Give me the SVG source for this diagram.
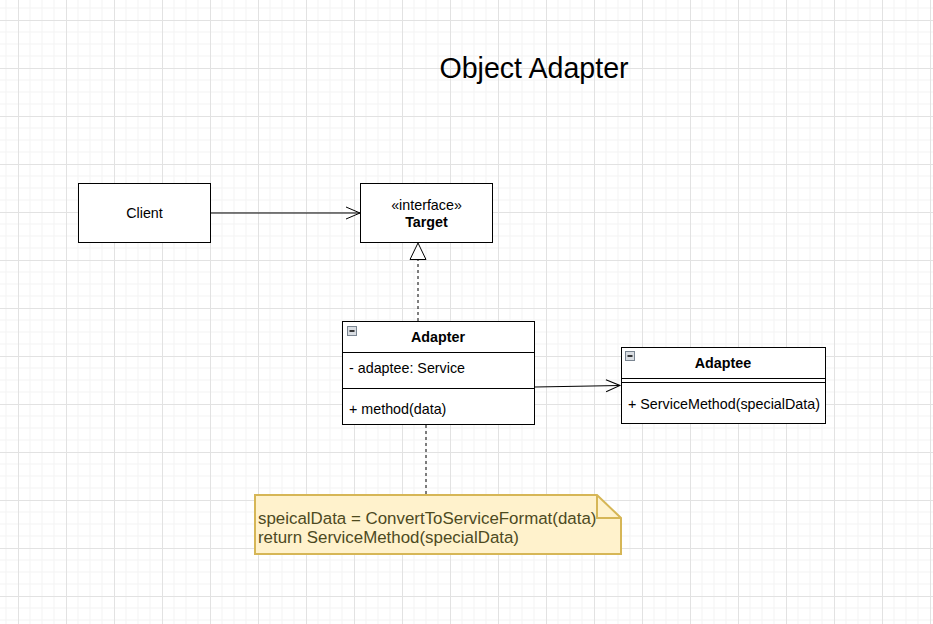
<svg xmlns="http://www.w3.org/2000/svg" width="933" height="624" viewBox="0 0 933 624">
<style>
text{font-family:"Liberation Sans",Arial,sans-serif;font-size:14.3px;fill:#000}
.box{fill:#fff;stroke:#000;stroke-width:1}
.bold{font-weight:bold}
.edge{fill:none;stroke:#000;stroke-width:1}
.dash{stroke-dasharray:3 3}
.note{fill:#fff2cc;stroke:#d6b656;stroke-width:2}
.notetext{font-size:16.9px;fill:#4d4a1f}
.icon{fill:#d9dde2;stroke:#7a8591;stroke-width:1}
</style>
<defs>
<pattern id="grid" patternUnits="userSpaceOnUse" width="48" height="48" x="18" y="20">
<path d="M12 0V48M24 0V48M36 0V48M0 12H48M0 24H48M0 36H48" stroke="#f3f3f3" stroke-width="1" fill="none"/>
<path d="M0.5 0V48M0 0.5H48" stroke="#e2e2e2" stroke-width="1" fill="none"/>
</pattern>
<marker id="open" markerWidth="16" markerHeight="14" refX="15" refY="7" orient="auto" markerUnits="userSpaceOnUse">
<path d="M1 1L15 7L1 13" fill="none" stroke="#000" stroke-width="1"/>
</marker>
<marker id="tri" markerWidth="20" markerHeight="20" refX="17" refY="9" orient="auto" markerUnits="userSpaceOnUse">
<path d="M0.5 1L17 9L0.5 17Z" fill="#fff" stroke="#000" stroke-width="1"/>
</marker>
</defs>
<rect width="933" height="624" fill="#fff"/>
<rect width="933" height="624" fill="url(#grid)"/>

<text x="534" y="78" text-anchor="middle" style="font-size:28.6px">Object Adapter</text>

<g id="connectors">
<line class="edge" x1="211" y1="213" x2="360" y2="213" marker-end="url(#open)"/>
<line class="edge dash" x1="418" y1="321" x2="418" y2="243" marker-end="url(#tri)"/>
<line class="edge" x1="535" y1="387" x2="620" y2="385.5" marker-end="url(#open)"/>
<line class="edge dash" x1="426" y1="425" x2="426" y2="494"/>
</g>

<g id="client">
<rect class="box" x="78.5" y="183.5" width="132" height="59"/>
<text x="144.5" y="218" text-anchor="middle">Client</text>
</g>

<g id="target">
<rect class="box" x="360.5" y="183.5" width="132" height="59"/>
<text x="426.5" y="210" text-anchor="middle">«interface»</text>
<text x="426.5" y="227" text-anchor="middle" class="bold">Target</text>
</g>

<g id="adapter">
<rect class="box" x="342.5" y="321.5" width="192" height="103"/>
<line class="edge" x1="342.5" y1="352.5" x2="534.5" y2="352.5"/>
<line class="edge" x1="342.5" y1="388.5" x2="534.5" y2="388.5"/>
<rect class="icon" x="347.5" y="326.5" width="9" height="9"/>
<line x1="349.5" y1="331" x2="354.5" y2="331" stroke="#000" stroke-width="1.5"/>
<text x="438" y="342" text-anchor="middle" class="bold">Adapter</text>
<text x="349" y="373">- adaptee: Service</text>
<text x="349" y="414">+ method(data)</text>
</g>

<g id="adaptee">
<rect class="box" x="621.5" y="347.5" width="204" height="76"/>
<line class="edge" x1="621.5" y1="378.5" x2="825.5" y2="378.5"/>
<line class="edge" x1="621.5" y1="382.5" x2="825.5" y2="382.5"/>
<rect class="icon" x="625.5" y="351.5" width="9" height="9"/>
<line x1="627.5" y1="356" x2="632.5" y2="356" stroke="#000" stroke-width="1.5"/>
<text x="723" y="368" text-anchor="middle" class="bold">Adaptee</text>
<text x="628" y="409">+ ServiceMethod(specialData)</text>
</g>

<g id="note">
<path class="note" d="M255 495H597L621 518V554H255Z"/>
<path d="M597 495V518H621" fill="none" stroke="#d6b656" stroke-width="2"/>
<text class="notetext" x="258" y="524">speicalData = ConvertToServiceFormat(data)</text>
<text class="notetext" x="258" y="543">return ServiceMethod(specialData)</text>
</g>
</svg>
